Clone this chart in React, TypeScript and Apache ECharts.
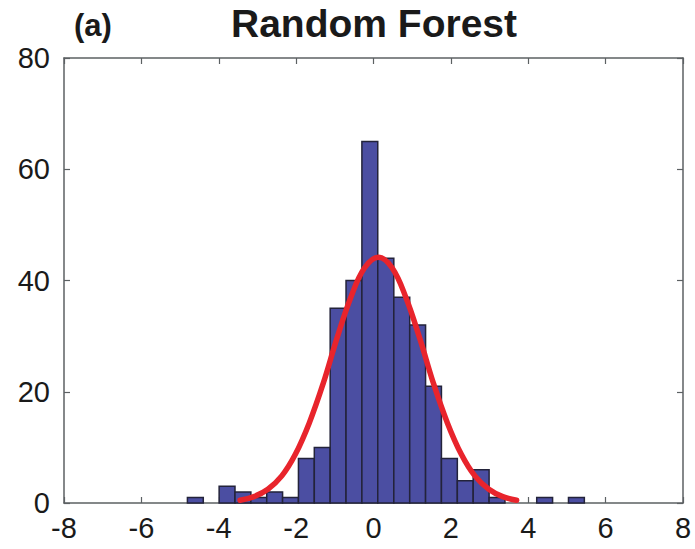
import React, { useEffect, useRef } from "react";
import * as echarts from "echarts";

// Histogram bin edges (26 edges -> 25 bins) and counts
const binEdges = [
  -4.81, -4.4, -3.99, -3.58, -3.17, -2.76, -2.35, -1.94, -1.53, -1.12, -0.71,
  -0.3, 0.11, 0.525, 0.936, 1.346, 1.756, 2.167, 2.577, 2.988, 3.398, 3.808,
  4.219, 4.629, 5.04, 5.45,
];
const binCounts = [
  1, 0, 3, 2, 1, 2, 1, 8, 10, 35, 40, 65, 44, 37, 32, 21, 8, 4, 6, 1, 0, 0, 1, 0, 1,
];

// Fitted curve points
const fitX = [
  -3.45, -3.09, -2.73, -2.37, -2.02, -1.66, -1.3, -0.95, -0.59, -0.23, 0.13,
  0.48, 0.84, 1.2, 1.55, 1.91, 2.27, 2.62, 2.98, 3.34, 3.7,
];
const fitY = [
  0.49, 1.15, 2.48, 4.87, 8.75, 14.4, 21.5, 29.5, 36.9, 42.3, 44.2, 42.3, 36.9,
  29.5, 21.5, 14.4, 8.75, 4.87, 2.48, 1.15, 0.49,
];

// Axis ranges / tick intervals
const xRange = [-8, 8];
const xStep = 2;
const yRange = [0, 80];
const yStep = 20;

const titleText = "Random Forest";
const panelLabel = "(a)";

const FONT = "'Liberation Sans', Arial, Helvetica, sans-serif";
const AXIS_COLOR = "#5c6163";
const TEXT_COLOR = "#1a1a1a";

export default function App() {
  const ref = useRef<HTMLDivElement>(null);

  useEffect(() => {
    if (!ref.current) return;
    const chart = echarts.init(ref.current, null, { renderer: "svg" });

    const histData = binCounts.map((c, i) => [binEdges[i], binEdges[i + 1], c]);
    const fitData = fitX.map((x, i) => [x, fitY[i]]);

    const axisLine = {
      show: true,
      onZero: false,
      lineStyle: { color: AXIS_COLOR, width: 1.5 },
    };
    const axisTick = {
      show: true,
      inside: true,
      length: 6,
      lineStyle: { color: AXIS_COLOR, width: 1.2 },
    };
    const labelStyle = {
      fontSize: 29,
      fontFamily: FONT,
      color: TEXT_COLOR,
    };

    chart.setOption({
      animation: false,
      backgroundColor: "#ffffff",
      grid: { left: 64, top: 58, right: 12, bottom: 46, show: false },
      graphic: [
        {
          type: "text",
          x: 374,
          y: 23,
          style: {
            text: titleText,
            fontSize: 39,
            fontWeight: "bold",
            fontFamily: FONT,
            fill: TEXT_COLOR,
            align: "center",
            verticalAlign: "middle",
          },
        },
        {
          type: "text",
          x: 74,
          y: 25,
          style: {
            text: panelLabel,
            fontSize: 31,
            fontWeight: "bold",
            fontFamily: FONT,
            fill: TEXT_COLOR,
            align: "left",
            verticalAlign: "middle",
          },
        },
      ],
      xAxis: [
        {
          type: "value",
          min: xRange[0],
          max: xRange[1],
          interval: xStep,
          position: "bottom",
          axisLine,
          axisTick,
          splitLine: { show: false },
          axisLabel: { ...labelStyle, margin: 10 },
        },
        {
          type: "value",
          min: xRange[0],
          max: xRange[1],
          interval: xStep,
          position: "top",
          axisLine,
          axisTick,
          splitLine: { show: false },
          axisLabel: { show: false },
        },
      ],
      yAxis: [
        {
          type: "value",
          min: yRange[0],
          max: yRange[1],
          interval: yStep,
          position: "left",
          axisLine,
          axisTick,
          splitLine: { show: false },
          axisLabel: { ...labelStyle, margin: 14 },
        },
        {
          type: "value",
          min: yRange[0],
          max: yRange[1],
          interval: yStep,
          position: "right",
          axisLine,
          axisTick,
          splitLine: { show: false },
          axisLabel: { show: false },
        },
      ],
      series: [
        {
          type: "custom",
          xAxisIndex: 0,
          yAxisIndex: 0,
          renderItem: (params: any, api: any) => {
            const x0 = api.value(0);
            const x1 = api.value(1);
            const c = api.value(2);
            if (!c) return null;
            const p0 = api.coord([x0, c]);
            const p1 = api.coord([x1, 0]);
            return {
              type: "rect",
              shape: {
                x: p0[0],
                y: p0[1],
                width: p1[0] - p0[0],
                height: p1[1] - p0[1],
              },
              style: {
                fill: "#4b4ea2",
                stroke: "#23233a",
                lineWidth: 1.5,
              },
            };
          },
          encode: { x: [0, 1], y: 2 },
          data: histData,
          z: 2,
        },
        {
          type: "line",
          xAxisIndex: 0,
          yAxisIndex: 0,
          data: fitData,
          smooth: 0.4,
          showSymbol: false,
          symbol: "none",
          lineStyle: { color: "#e8242c", width: 5.5, cap: "round" },
          z: 3,
        },
      ],
    });

    return () => chart.dispose();
  }, []);

  return (
    <div
      ref={ref}
      style={{ position: "fixed", left: 0, top: 0, width: 695, height: 549 }}
    />
  );
}
